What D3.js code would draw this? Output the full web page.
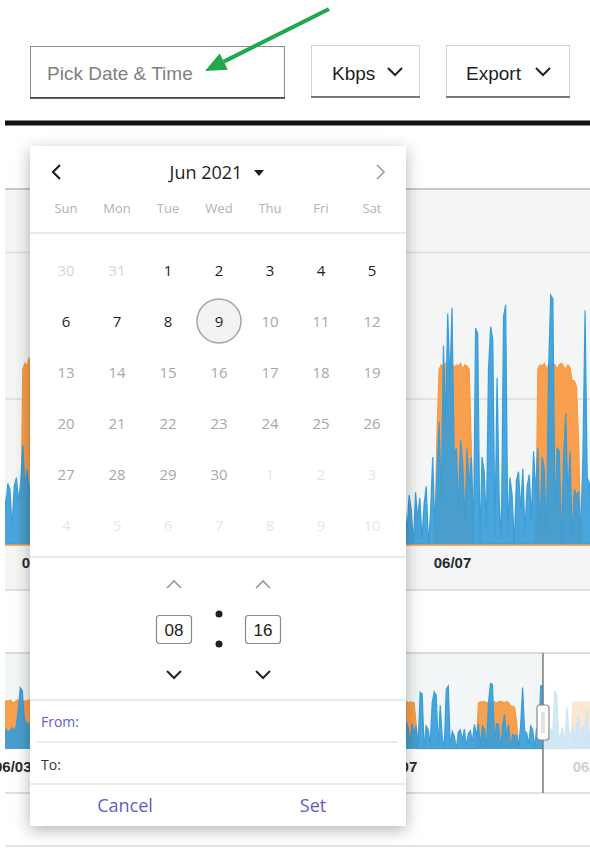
<!DOCTYPE html>
<html><head><meta charset="utf-8">
<script src="https://cdn.jsdelivr.net/npm/d3@7"></script>
<style>
html,body{margin:0;padding:0;background:#fff;overflow:hidden;}
svg{display:block;}
</style></head>
<body>
<svg id="c" width="590" height="848"></svg>
<script>
// ---------------- DATA ----------------
const seriesNames = ["Download", "Upload"];
const stepMinutes = 30;
const segmentStarts = ["2021-06-02T15:00:00Z", "2021-06-06T13:00:00Z"];
const downSeg1 = [180,220,120,210,190,60,200,230,150,210,340,200,260,180,240,260,200,250,280,230,300,500,800,760,400,330,340,300];
const upSeg1   = [4,4,4,4,4,4,4,4,4,4,600,620,610,640,600,630,620,640,610,600,630,640,620,610,630,620,640,630];
const downSeg2 = [150,40,170,120,0,180,90,160,20,140,
                  200,0,110,300,60,250,420,150,680,420,
                  790,560,810,300,330,120,360,280,80,330,
                  200,300,40,740,720,0,300,250,60,600,
                  745,700,30,570,150,20,780,820,40,230,
                  170,0,220,250,120,260,40,200,240,90,
                  320,180,330,40,300,260,20,600,853,840,
                  100,330,320,0,300,450,160,320,20,190,
                  170,180,40,300,800,230,210,60,300,250,
                  20,280,180,820,830,300,200,50,260,220,
                  760,700,120,200,280,30,550,240,160,300,
                  90,350,420,100,300,260,520,60,330,280,
                  150];
const upSeg2 = [4,4,4,4,4,4,4,4,4,4,4,4,4,4,4,
                380,
                600,615,610,620,600,615,620,605,615,610,620,600,615,610,600,
                330,
                4,4,4,4,4,4,4,4,4,4,4,4,4,4,4,4,4,4,4,4,4,4,4,4,4,4,4,4,4,4,
                600,615,610,620,600,615,610,620,615,600,615,620,610,600,615,605,
                560,560,540,350,
                4,4,4,4,4,4,4,4,4,4,4,4,4,4,4,4,4,4,4,4,4,4,4,4,4,4,4,
                600,
                615,610,620,600,615,610,620,605,615,620,610];
const mainRange = ["2021-06-02T15:51:00Z", "2021-06-08T08:09:00Z"];
const navRange  = ["2021-06-02T22:12:00Z", "2021-06-08T23:46:00Z"];
const selectionEnd = "2021-06-08T12:04:00Z";
const axisTicks = ["2021-06-03", "2021-06-05", "2021-06-07", "2021-06-09"];
const yGridTicks = [500, 1000];
const mainYMax = 1215, navYMax = 1250;

// UI text
const unitLabel = "Kbps", exportLabel = "Export", pickLabel = "Pick Date & Time";
const weekdays = ["Sun","Mon","Tue","Wed","Thu","Fri","Sat"];
const monthTitle = "Jun 2021";
const prevMonthDays = [30, 31];
const monthLength = 30;
const nextMonthDays = [1,2,3,4,5,6,7,8,9,10];
const selectedDay = 9;
const timeHours = "08", timeMinutes = "16";

// ---------------- BUILD ----------------
const blue = "#3a9dd8", orange = "#f7983f";
function seg(start, down, up){
  const t0 = Date.parse(start);
  return down.map((v,i)=>({t:new Date(t0 + i*stepMinutes*60000), down:v, up:up[i]}));
}
const data = [...seg(segmentStarts[0], downSeg1, upSeg1), ...seg(segmentStarts[1], downSeg2, upSeg2)];
const tickDates = axisTicks.map(d=>new Date(d+"T00:00:00Z"));

const svg = d3.select("#c");
const defs = svg.append("defs");
const flt = defs.append("filter").attr("id","sh").attr("x","-20%").attr("y","-20%").attr("width","140%").attr("height","140%");
flt.append("feDropShadow").attr("dx",0).attr("dy",4).attr("stdDeviation",8).attr("flood-color","#000").attr("flood-opacity",0.3);

// top controls
const ctl = svg.append("g").attr("font-family","'Liberation Sans', Arial, sans-serif").attr("font-size",19);
ctl.append("rect").attr("x",30.5).attr("y",46.5).attr("width",254).attr("height",51).attr("fill","#fff").attr("stroke","#8c8c8c");
ctl.append("line").attr("x1",30).attr("x2",285).attr("y1",98).attr("y2",98).attr("stroke","#333").attr("stroke-width",1.5);
ctl.append("text").attr("x",47).attr("y",80).attr("fill","#808080").text(pickLabel);
[[311.5,108,unitLabel,332,395],[446.5,123,exportLabel,466,543]].forEach(([x,w,t,tx,cx])=>{
  ctl.append("rect").attr("x",x).attr("y",45.5).attr("width",w).attr("height",51).attr("fill","#fff").attr("stroke","#d2d2d2");
  ctl.append("line").attr("x1",x-0.5).attr("x2",x+w+0.5).attr("y1",97).attr("y2",97).attr("stroke","#555").attr("stroke-width",1.5);
  ctl.append("text").attr("x",tx).attr("y",80).attr("fill","#1e1e1e").text(t);
  ctl.append("path").attr("d",`M${cx-7},68 L${cx},75 L${cx+7},68`).attr("fill","none").attr("stroke","#222").attr("stroke-width",2);
});
// green arrow
(function(){
  const tail=[329,9], tip=[205,71];
  const dx=tip[0]-tail[0], dy=tip[1]-tail[1], L=Math.hypot(dx,dy), ux=dx/L, uy=dy/L;
  const b=[tip[0]-ux*21, tip[1]-uy*21], px=-uy, py=ux;
  svg.append("line").attr("x1",tail[0]).attr("y1",tail[1]).attr("x2",b[0]).attr("y2",b[1]).attr("stroke","#1fa84c").attr("stroke-width",4);
  svg.append("path").attr("d",`M${tip[0]},${tip[1]} L${b[0]+px*9},${b[1]+py*9} L${b[0]-px*9},${b[1]-py*9} Z`).attr("fill","#1fa84c");
})();
// thick black rule
svg.append("rect").attr("x",5).attr("y",120.5).attr("width",585).attr("height",5).attr("fill","#111");

// ---------------- MAIN CHART ----------------
const mx = d3.scaleUtc().domain(mainRange.map(d=>new Date(d))).range([5,590]);
const my = d3.scaleLinear().domain([0,mainYMax]).range([545,189]);
svg.append("rect").attr("x",5).attr("y",189).attr("width",585).attr("height",401).attr("fill","#f4f6f6");
svg.append("line").attr("x1",5).attr("x2",590).attr("y1",189).attr("y2",189).attr("stroke","#c8c8c8").attr("stroke-width",2);
svg.append("line").attr("x1",5).attr("x2",590).attr("y1",590).attr("y2",590).attr("stroke","#d6d6d6").attr("stroke-width",1.5);
const gy = svg.append("g").attr("transform","translate(5,0)")
  .call(d3.axisLeft(my).tickValues(yGridTicks).tickSize(-585).tickFormat(""));
gy.select(".domain").remove();
gy.selectAll("line").attr("stroke","#e1e3e3").attr("stroke-width",2);

defs.append("clipPath").attr("id","mclip").append("rect").attr("x",5).attr("y",189).attr("width",585).attr("height",357);
const mg = svg.append("g").attr("clip-path","url(#mclip)");
function drawSeries(g, x, y, key, color){
  g.append("path").datum(data).attr("fill",color).attr("fill-opacity",0.92)
    .attr("d", d3.area().x(d=>x(d.t)).y0(y(0)).y1(d=>y(d[key])));
  g.append("path").datum(data).attr("fill","none").attr("stroke",color).attr("stroke-width",1.2)
    .attr("d", d3.line().x(d=>x(d.t)).y(d=>y(d[key])));
}
drawSeries(mg, mx, my, "up", orange);
drawSeries(mg, mx, my, "down", blue);
mg.append("line").attr("x1",5).attr("x2",590).attr("y1",545).attr("y2",545).attr("stroke",orange).attr("stroke-width",1.5);

const mDom = mx.domain();
const ax = svg.append("g").attr("transform","translate(0,545)")
  .call(d3.axisBottom(mx).tickValues(tickDates.filter(d=>d>=mDom[0] && d<=mDom[1])).tickFormat(d3.utcFormat("%m/%d")).tickSize(0).tickPadding(12));
ax.select(".domain").remove();
ax.selectAll("text").attr("font-family","'Liberation Sans', Arial, sans-serif").attr("font-size",15).attr("font-weight","bold").attr("fill","#2a2a2a");

// ---------------- NAVIGATOR ----------------
const nx = d3.scaleUtc().domain(navRange.map(d=>new Date(d))).range([5,590]);
const ny = d3.scaleLinear().domain([0,navYMax]).range([749,653]);
const selX = nx(new Date(selectionEnd));
svg.append("rect").attr("x",5).attr("y",653).attr("width",selX-5).attr("height",96).attr("fill","#f3f6f6");
svg.append("line").attr("x1",5).attr("x2",590).attr("y1",653).attr("y2",653).attr("stroke","#cfcfcf").attr("stroke-width",1.5);
svg.append("line").attr("x1",5).attr("x2",590).attr("y1",793).attr("y2",793).attr("stroke","#d6d6d6").attr("stroke-width",1.5);
svg.append("line").attr("x1",5).attr("x2",590).attr("y1",846).attr("y2",846).attr("stroke","#dcdcdc").attr("stroke-width",1.5);
defs.append("clipPath").attr("id","nsel").append("rect").attr("x",5).attr("y",653).attr("width",selX-5).attr("height",97);
defs.append("clipPath").attr("id","nrest").append("rect").attr("x",selX).attr("y",653).attr("width",590-selX).attr("height",97);
const ns = svg.append("g").attr("clip-path","url(#nsel)");
drawSeries(ns, nx, ny, "up", orange);
drawSeries(ns, nx, ny, "down", blue);
const nr = svg.append("g").attr("clip-path","url(#nrest)").attr("opacity",0.25);
drawSeries(nr, nx, ny, "up", orange);
drawSeries(nr, nx, ny, "down", blue);
const nax = svg.append("g").attr("transform","translate(0,749)")
  .call(d3.axisBottom(nx).tickValues(tickDates).tickFormat(d3.utcFormat("%m/%d")).tickSize(0).tickPadding(12));
nax.select(".domain").remove();
nax.selectAll("text").attr("font-family","'Liberation Sans', Arial, sans-serif").attr("font-size",15).attr("font-weight","bold")
  .attr("fill", d=> nx(d) > selX ? "#cfcfcf" : "#2a2a2a");
svg.append("line").attr("x1",selX).attr("x2",selX).attr("y1",653).attr("y2",793).attr("stroke","#7a7a7a").attr("stroke-width",1.5);
svg.append("rect").attr("x",selX-6).attr("y",705).attr("width",12).attr("height",35).attr("rx",3).attr("fill","#fff").attr("stroke","#8a8a8a").attr("stroke-width",1.2);
svg.append("rect").attr("x",selX-2).attr("y",712).attr("width",4).attr("height",21).attr("fill","#e2e2e2");

// ---------------- POPUP ----------------
const pop = svg.append("g").attr("font-family","'Open Sans', 'Noto Sans', sans-serif");
pop.append("rect").attr("x",30).attr("y",146).attr("width",376).attr("height",680).attr("fill","#fff").attr("filter","url(#sh)");
pop.append("path").attr("d","M60,165 L53,172 L60,179").attr("fill","none").attr("stroke","#222").attr("stroke-width",2.2);
pop.append("path").attr("d","M377,165 L384,172 L377,179").attr("fill","none").attr("stroke","#9a9a9a").attr("stroke-width",1.6);
pop.append("text").attr("x",206).attr("y",179).attr("text-anchor","middle").attr("font-size",18).attr("fill","#1e1e1e").text(monthTitle);
pop.append("path").attr("d","M254,170 L264,170 L259,176 Z").attr("fill","#1e1e1e");
const colX = i => 66 + i*51;
pop.selectAll(".wd").data(weekdays).enter().append("text").attr("class","wd")
  .attr("x",(d,i)=>colX(i)).attr("y",213).attr("text-anchor","middle").attr("font-size",13).attr("fill","#b3b3b3").text(d=>d);
const sep = (y,x1=30,x2=406,c="#e3e3e3")=>pop.append("line").attr("x1",x1).attr("x2",x2).attr("y1",y).attr("y2",y).attr("stroke",c).attr("stroke-width",1.3);
sep(233); sep(557); sep(700); sep(742,36,398,"#e6e6e6"); sep(784);
const cells = [
  ...prevMonthDays.map(d=>({d, kind:"prev"})),
  ...d3.range(1, monthLength+1).map(d=>({d, kind: d<selectedDay ? "past" : d===selectedDay ? "sel" : "future"})),
  ...nextMonthDays.map(d=>({d, kind:"next"}))
];
const cellColor = {prev:"#d6d6d6", past:"#1e1e1e", sel:"#1e1e1e", future:"#a8a8a8", next:"#e6e6e6"};
const cg = pop.selectAll(".cell").data(cells).enter().append("g").attr("class","cell")
  .attr("transform",(c,i)=>`translate(${colX(i%7)},${270 + Math.floor(i/7)*51})`);
cg.filter(c=>c.kind==="sel").append("circle").attr("r",22).attr("fill","#f3f3f3").attr("stroke","#a5a5a5").attr("stroke-width",1.5);
cg.append("text").attr("text-anchor","middle").attr("y",5.5).attr("font-size",15).attr("fill",c=>cellColor[c.kind]).text(c=>c.d);

// time picker
[[174,timeHours],[263,timeMinutes]].forEach(([cx,t])=>{
  pop.append("path").attr("d",`M${cx-7},588 L${cx},581 L${cx+7},588`).attr("fill","none").attr("stroke","#9a9a9a").attr("stroke-width",1.6);
  pop.append("path").attr("d",`M${cx-7},671 L${cx},678 L${cx+7},671`).attr("fill","none").attr("stroke","#222").attr("stroke-width",2);
  pop.append("rect").attr("x",cx-17.5).attr("y",615.5).attr("width",35).attr("height",28).attr("rx",3).attr("fill","#fff").attr("stroke","#8a8a8a").attr("stroke-width",1.2);
  pop.append("text").attr("x",cx).attr("y",636).attr("text-anchor","middle").attr("font-family","'Liberation Sans', Arial, sans-serif").attr("font-size",17).attr("fill","#222").text(t);
});
pop.append("circle").attr("cx",219).attr("cy",614).attr("r",3.5).attr("fill","#222");
pop.append("circle").attr("cx",219).attr("cy",644).attr("r",3.5).attr("fill","#222");

pop.append("text").attr("x",41).attr("y",727).attr("font-size",14).attr("fill","#5b5fc7").text("From:");
pop.append("text").attr("x",41).attr("y",770).attr("font-size",14).attr("fill","#333").text("To:");
pop.append("text").attr("x",125).attr("y",812).attr("text-anchor","middle").attr("font-size",18).attr("fill","#5b5fc7").text("Cancel");
pop.append("text").attr("x",313).attr("y",812).attr("text-anchor","middle").attr("font-size",18).attr("fill","#5b5fc7").text("Set");
</script>
</body></html>
